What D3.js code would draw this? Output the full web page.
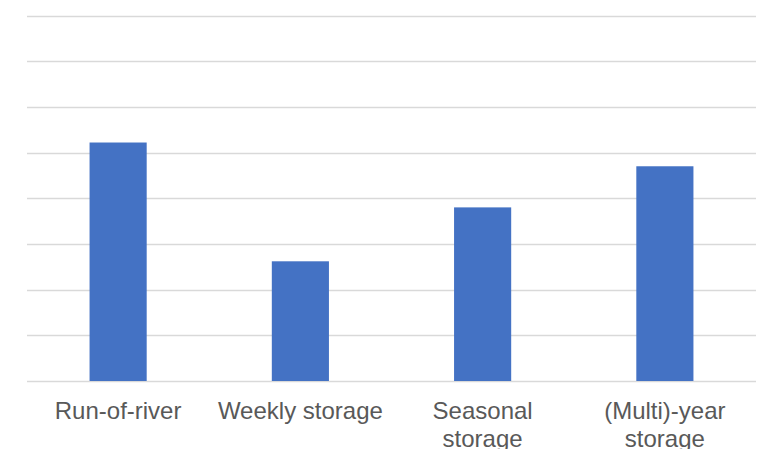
<!DOCTYPE html>
<html>
<head>
<meta charset="utf-8">
<script src="https://cdn.jsdelivr.net/npm/d3@7/dist/d3.min.js"></script>
<style>
  html, body { margin: 0; padding: 0; background: #fff; }
  svg { display: block; }
  .cat-label { font-family: "Liberation Sans", Arial, sans-serif; font-size: 24px; fill: #595959; }
</style>
</head>
<body>
<div id="chart"></div>
<script>
// Hydropower plant types and their relative magnitudes
const categories = ["Run-of-river", "Weekly storage", "Seasonal storage", "(Multi)-year storage"];
const values = [5.22, 2.62, 3.80, 4.70];
const gridTicks = [0, 1, 2, 3, 4, 5, 6, 7, 8];

const width = 760, height = 449;
const plot = { left: 27, right: 756, top: 15.5, bottom: 381 };

const svg = d3.select("#chart").append("svg")
  .attr("width", width)
  .attr("height", height);

const x = d3.scaleBand()
  .domain(categories)
  .range([plot.left, plot.right])
  .paddingInner(1 - 1 / 3.19)
  .paddingOuter((1 - 1 / 3.19) / 2);

const y = d3.scaleLinear()
  .domain([0, 8])
  .range([plot.bottom, plot.top]);

// Horizontal gridlines
svg.append("g")
  .selectAll("line")
  .data(gridTicks)
  .join("line")
  .attr("x1", plot.left)
  .attr("x2", plot.right)
  .attr("y1", d => Math.round(y(d)) + 0.5)
  .attr("y2", d => Math.round(y(d)) + 0.5)
  .attr("stroke", "#d9d9d9")
  .attr("stroke-width", 1.4);

// Bars
svg.append("g")
  .selectAll("rect")
  .data(categories.map((c, i) => ({ c, v: values[i] })))
  .join("rect")
  .attr("x", d => x(d.c))
  .attr("width", x.bandwidth())
  .attr("y", d => y(d.v))
  .attr("height", d => y(0) - y(d.v))
  .attr("fill", "#4472c4");

// Category labels, wrapped to the width of each band
const step = x.step();
const labels = svg.append("g")
  .selectAll("text")
  .data(categories)
  .join("text")
  .attr("class", "cat-label")
  .attr("text-anchor", "middle")
  .attr("x", d => x(d) + x.bandwidth() / 2)
  .attr("y", 418.5);

labels.each(function (d) {
  const text = d3.select(this);
  const cx = x(d) + x.bandwidth() / 2;
  const words = d.split(" ");
  let lines = [];
  let line = [];
  const probe = text.append("tspan");
  words.forEach(w => {
    const trial = line.concat(w).join(" ");
    probe.text(trial);
    if (probe.node().getComputedTextLength() > step && line.length) {
      lines.push(line.join(" "));
      line = [w];
    } else {
      line.push(w);
    }
  });
  lines.push(line.join(" "));
  probe.remove();
  lines.forEach((l, i) => {
    text.append("tspan")
      .attr("x", cx)
      .attr("dy", i === 0 ? 0 : 28.3)
      .text(l);
  });
});
</script>
</body>
</html>
